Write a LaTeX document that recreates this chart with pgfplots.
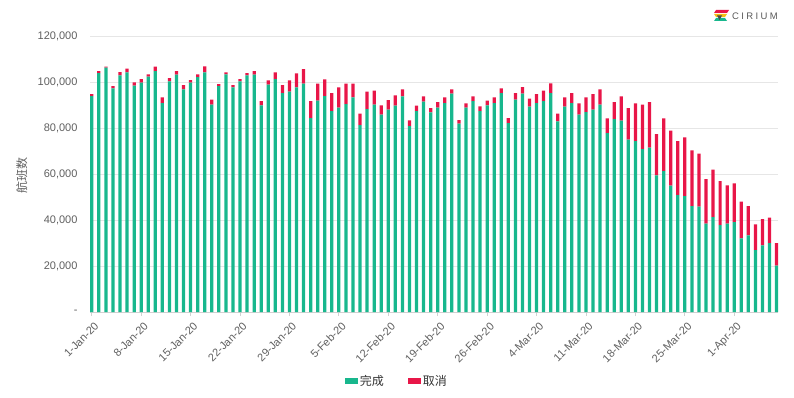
\documentclass[border=0pt]{standalone}
\usepackage{pgfplots}
\usepackage{pgfplotstable}
\pgfplotsset{compat=1.18}
\usepackage{fontspec}
\setmainfont{Liberation Sans}
\newfontfamily\cjk{Noto Sans CJK SC}
\definecolor{cgreen}{RGB}{24,183,141}
\definecolor{cred}{RGB}{232,22,72}
\definecolor{cyel}{RGB}{245,190,20}
\definecolor{ctick}{RGB}{95,95,95}
\definecolor{cgrid}{RGB}{230,230,230}
\pgfplotstableread{
day done cancel
0 93900 870
1 103900 870
2 106200 450
3 97230 1010
4 102880 1450
5 104160 1620
6 98390 1450
7 99690 1600
8 102300 1010
9 104770 1880
10 90850 2470
11 100270 1450
12 103170 1600
13 96790 1890
14 99690 1160
15 102150 1160
16 104180 2620
17 90130 2170
18 98240 870
19 103310 870
20 97660 1020
21 100270 1020
22 102880 1020
23 103170 1600
24 89840 1880
25 98820 1880
26 101290 2890
27 95200 3480
28 95780 4920
29 97660 6090
30 99260 6370
31 84330 7390
32 91870 7390
33 93900 7240
34 87370 7830
35 88820 8840
36 90420 8840
37 93320 5940
38 81290 4930
39 88240 7540
40 90130 6080
41 85780 4060
42 87950 4210
43 89700 4490
44 93750 3040
45 80860 2460
46 87370 2330
47 91430 2320
48 86800 1880
49 88820 2470
50 90850 2470
51 94910 1880
52 81870 1590
53 88820 1890
54 91720 2030
55 87370 2030
56 89840 2030
57 90850 2470
58 95200 2030
59 82160 2170
60 92300 2900
61 94910 2900
62 89260 3480
63 90850 3920
64 91720 4490
65 95200 4200
66 82880 3340
67 89260 4060
68 90850 4350
69 85780 4930
70 86940 6380
71 87950 6820
72 90130 6660
73 77810 6380
74 83900 7390
75 83170 10580
76 74910 13770
77 74330 16380
78 70860 19270
79 71440 19850
80 59410 17970
81 61290 22900
82 54920 23910
83 50860 23470
84 50430 25500
85 46080 24200
86 45790 23040
87 38400 19420
88 41300 20570
89 37820 19130
90 38400 16660
91 39120 16810
92 32020 15940
93 33330 12750
94 26950 11160
95 28980 11450
96 29990 11020
97 20140 9850
}\flights
\begin{document}
\begin{tikzpicture}[x=1pt,y=1pt]
\path[use as bounding box] (0,0) rectangle (794,397);
\begin{axis}[
  at={(90pt,85pt)}, anchor=south west,
  scale only axis, width=688pt, height=276pt,
  ybar stacked, bar width=0.46,
  xmin=-0.25, xmax=97.2, ymin=0, ymax=120000,
  axis x line*=bottom, axis y line*=left,
  x axis line style={draw=cgrid!80!gray, line width=0.8pt},
  y axis line style={draw=none},
  ymajorgrids, major grid style={draw=cgrid, line width=0.8pt},
  ytick={0,20000,40000,60000,80000,100000,120000},
  yticklabels={{-\hspace{6pt}},{20,000},{40,000},{60,000},{80,000},{100,000},{120,000}},
  ytick style={draw=none},
  xtick={0,7,...,91},
  xticklabels={1-Jan-20,8-Jan-20,15-Jan-20,22-Jan-20,29-Jan-20,5-Feb-20,12-Feb-20,19-Feb-20,26-Feb-20,4-Mar-20,11-Mar-20,18-Mar-20,25-Mar-20,1-Apr-20},
  xtick style={draw=cgrid!80!gray, line width=0.8pt},
  tick align=outside, major tick length=4pt,
  scaled y ticks=false,
  yticklabel style={font=\fontsize{11}{13}\selectfont, text=ctick, xshift=-5pt},
  xticklabel style={font=\fontsize{11}{13}\selectfont, text=ctick, rotate=45, anchor=north east, xshift=1pt, yshift=-2pt},
  ylabel={\cjk 航班数},
  every axis y label/.style={at={(axis description cs:-0.099,0.493)}, rotate=90, anchor=center, font=\fontsize{12}{14}\selectfont, text=ctick},
  legend style={at={(0.446,-0.25)}, anchor=center, draw=none, legend columns=2,
    font=\fontsize{12}{14}\selectfont\cjk, text=black!80,
    /tikz/every even column/.append style={column sep=22pt}},
  legend image code/.code={\fill[#1] (0pt,-3pt) rectangle (13pt,3pt);},
]
\addplot[fill=cgreen, draw=none] table[x=day, y=done] {\flights};
\addlegendentry{完成}
\addplot[fill=cred, draw=none] table[x=day, y=cancel] {\flights};
\addlegendentry{取消}
\end{axis}
% Cirium logo
\fill[cred] (716,387) -- (729,387) -- (727,384) -- (714,384) -- cycle;
\fill[cyel] (714,383) -- (727,383) -- (725,380) -- (716,380) -- cycle;
\fill[cgreen] (716,379) -- (725,379) -- (727,376) -- (714,376) -- cycle;
\fill[black!70] (717,381.5) -- (722,381.5) -- (719.5,377) -- cycle;
\node[anchor=west, text=black!65, inner sep=0pt, font=\fontsize{9.5}{11}\selectfont\addfontfeature{LetterSpace=25}] at (732,380.5) {CIRIUM};
\end{tikzpicture}
\end{document}
